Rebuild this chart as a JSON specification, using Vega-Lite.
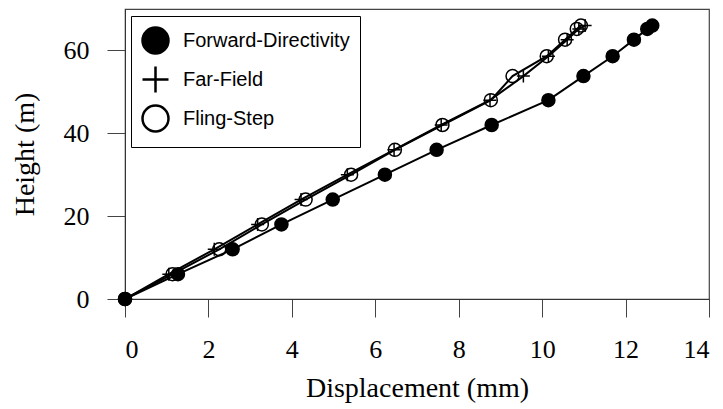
{
  "$schema": "https://vega.github.io/schema/vega-lite/v6.json",
  "width": 584,
  "height": 290,
  "autosize": "none",
  "padding": {"left": 125, "top": 9, "right": 14, "bottom": 110},
  "background": "white",
  "config": {
    "view": {"stroke": "#444", "strokeWidth": 1.2},
    "axis": {
      "grid": false,
      "domainColor": "#333",
      "tickColor": "#444",
      "tickSize": 18,
      "labelFont": "Liberation Serif",
      "titleFont": "Liberation Serif",
      "labelColor": "black",
      "titleColor": "black",
      "labelFontSize": 26,
      "titleFontSize": 28,
      "titleFontWeight": "normal"
    },
    "legend": {
      "title": null,
      "orient": "none",
      "legendX": 6,
      "legendY": 7,
      "strokeColor": "black",
      "fillColor": "white",
      "padding": 10,
      "labelFont": "Liberation Sans",
      "labelFontSize": 20,
      "labelColor": "black",
      "labelOffset": 13,
      "labelLimit": 400,
      "symbolSize": 676,
      "symbolStrokeWidth": 2.5,
      "rowPadding": 2
    }
  },
  "data": {
    "values": [
      {"series": "Forward-Directivity", "h": 0, "d": 0},
      {"series": "Forward-Directivity", "h": 6, "d": 1.27},
      {"series": "Forward-Directivity", "h": 12, "d": 2.58},
      {"series": "Forward-Directivity", "h": 18, "d": 3.75},
      {"series": "Forward-Directivity", "h": 24, "d": 4.98},
      {"series": "Forward-Directivity", "h": 30, "d": 6.23},
      {"series": "Forward-Directivity", "h": 36, "d": 7.47},
      {"series": "Forward-Directivity", "h": 42, "d": 8.79},
      {"series": "Forward-Directivity", "h": 48, "d": 10.15},
      {"series": "Forward-Directivity", "h": 53.8, "d": 10.99},
      {"series": "Forward-Directivity", "h": 58.6, "d": 11.69},
      {"series": "Forward-Directivity", "h": 62.6, "d": 12.2},
      {"series": "Forward-Directivity", "h": 65.2, "d": 12.52},
      {"series": "Forward-Directivity", "h": 66, "d": 12.64},
      {"series": "Far-Field", "h": 0, "d": 0},
      {"series": "Far-Field", "h": 6, "d": 1.05},
      {"series": "Far-Field", "h": 12, "d": 2.14},
      {"series": "Far-Field", "h": 18, "d": 3.18},
      {"series": "Far-Field", "h": 24, "d": 4.22},
      {"series": "Far-Field", "h": 30, "d": 5.33},
      {"series": "Far-Field", "h": 36, "d": 6.45},
      {"series": "Far-Field", "h": 42, "d": 7.58},
      {"series": "Far-Field", "h": 48, "d": 8.75},
      {"series": "Far-Field", "h": 53.8, "d": 9.55},
      {"series": "Far-Field", "h": 58.6, "d": 10.15},
      {"series": "Far-Field", "h": 62.6, "d": 10.6},
      {"series": "Far-Field", "h": 65.2, "d": 10.88},
      {"series": "Far-Field", "h": 66, "d": 11.03},
      {"series": "Fling-Step", "h": 0, "d": 0},
      {"series": "Fling-Step", "h": 6, "d": 1.14},
      {"series": "Fling-Step", "h": 12, "d": 2.26},
      {"series": "Fling-Step", "h": 18, "d": 3.28},
      {"series": "Fling-Step", "h": 24, "d": 4.33},
      {"series": "Fling-Step", "h": 30, "d": 5.42},
      {"series": "Fling-Step", "h": 36, "d": 6.47},
      {"series": "Fling-Step", "h": 42, "d": 7.61},
      {"series": "Fling-Step", "h": 48, "d": 8.77},
      {"series": "Fling-Step", "h": 53.8, "d": 9.29},
      {"series": "Fling-Step", "h": 58.6, "d": 10.11},
      {"series": "Fling-Step", "h": 62.6, "d": 10.55},
      {"series": "Fling-Step", "h": 65.2, "d": 10.83},
      {"series": "Fling-Step", "h": 66, "d": 10.93}
    ]
  },
  "encoding": {
    "x": {
      "field": "d",
      "type": "quantitative",
      "title": "Displacement (mm)",
      "scale": {"domain": [0, 14], "nice": false, "zero": true},
      "axis": {"values": [0, 2, 4, 6, 8, 10, 12, 14], "labelPadding": 19, "titlePadding": 12}
    },
    "y": {
      "field": "h",
      "type": "quantitative",
      "title": "Height (m)",
      "scale": {"domain": [0, 70], "nice": false},
      "axis": {"values": [0, 20, 40, 60], "labelPadding": 18, "titlePadding": 24}
    }
  },
  "layer": [
    {
      "mark": {"type": "line", "color": "black", "strokeWidth": 2},
      "encoding": {
        "detail": {"field": "series"},
        "order": {"field": "h", "type": "quantitative"}
      }
    },
    {
      "mark": {"type": "point", "filled": true, "strokeWidth": 1.5, "opacity": 1, "size": 169},
      "encoding": {
        "shape": {
          "field": "series",
          "type": "nominal",
          "scale": {
            "domain": ["Forward-Directivity", "Far-Field", "Fling-Step"],
            "range": ["circle", "M-1,0L1,0M0,-1L0,1", "circle"]
          }
        },
        "fill": {
          "field": "series",
          "type": "nominal",
          "scale": {
            "domain": ["Forward-Directivity", "Far-Field", "Fling-Step"],
            "range": ["black", "transparent", "transparent"]
          }
        },
        "stroke": {
          "field": "series",
          "type": "nominal",
          "scale": {
            "domain": ["Forward-Directivity", "Far-Field", "Fling-Step"],
            "range": ["black", "black", "black"]
          }
        }
      }
    }
  ]
}
